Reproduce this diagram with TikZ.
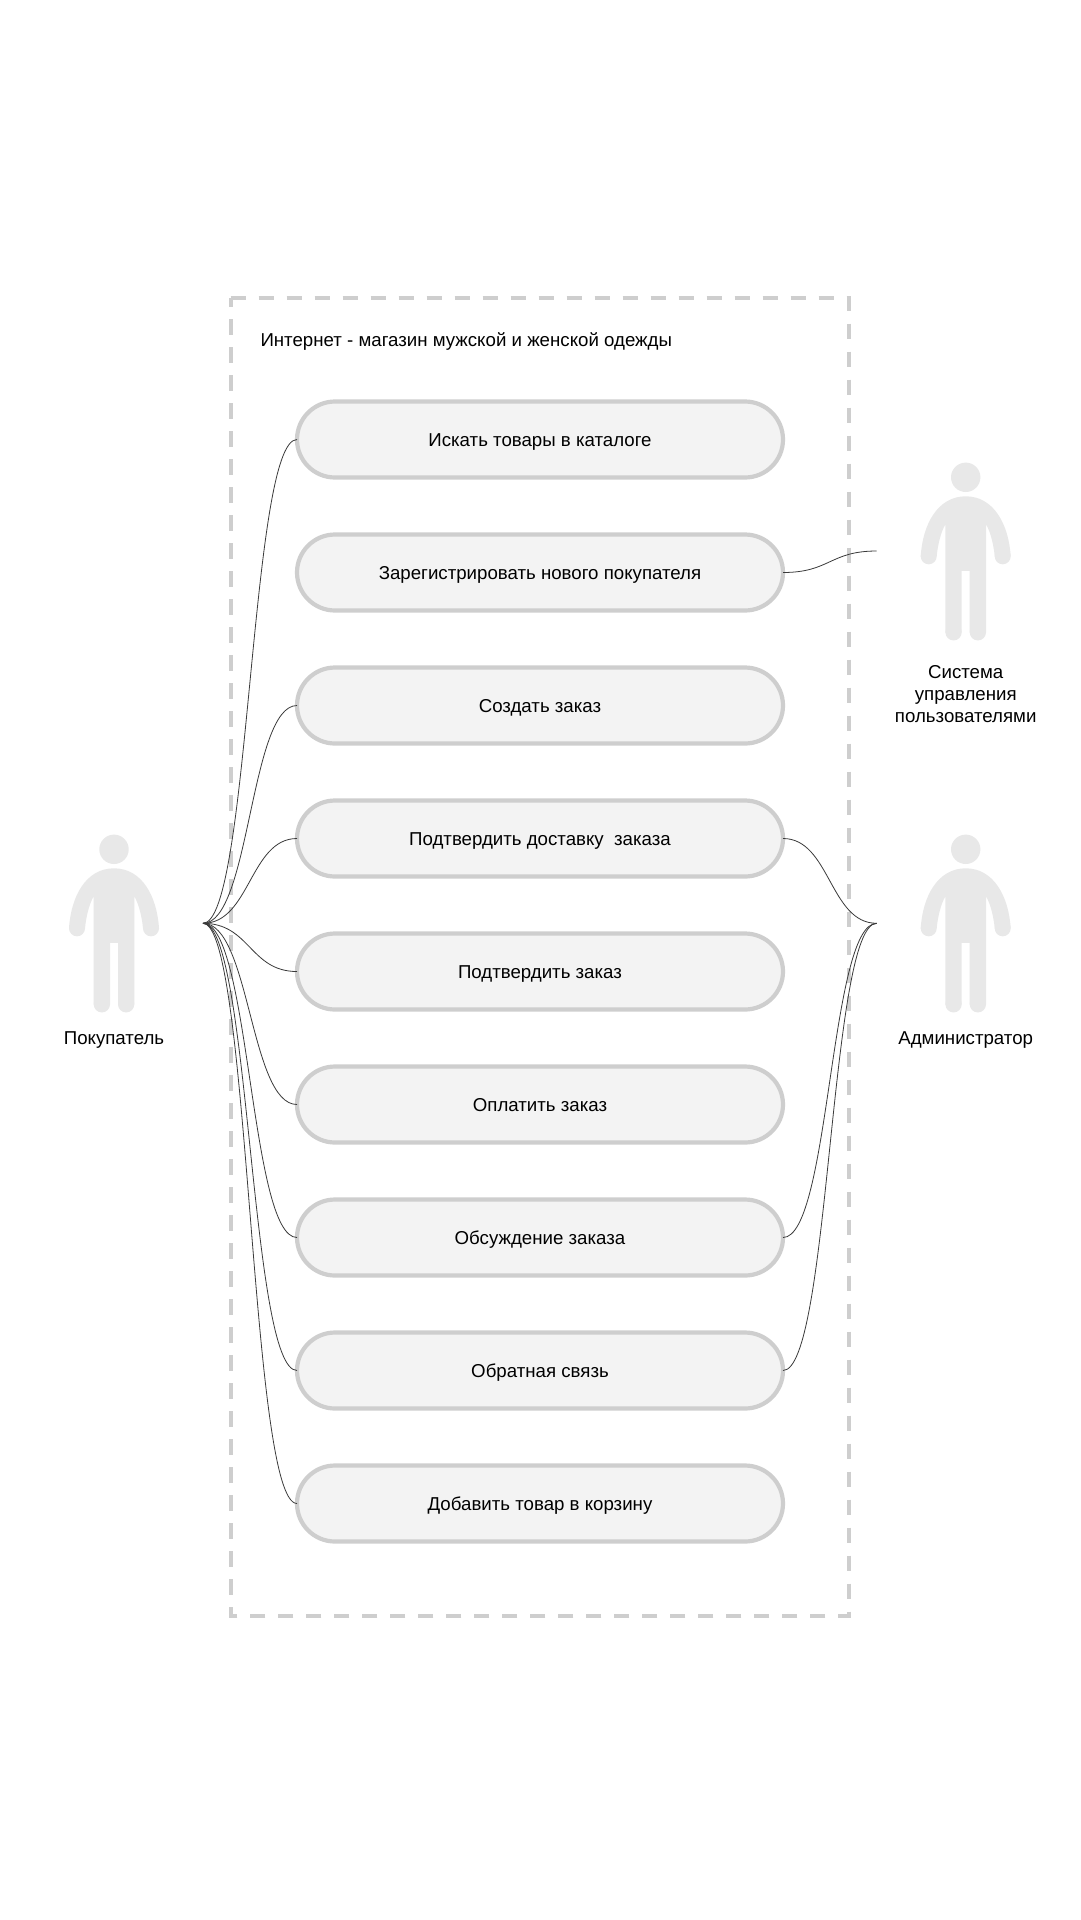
\documentclass[tikz,border=0pt]{standalone}
\usepackage{fontspec}
\setmainfont{Liberation Sans}
\tikzset{
  usecase/.style={draw=pillline,fill=pillfill,line width=4.2pt,rounded corners=38pt,minimum width=486pt,minimum height=76pt,inner sep=0pt,outer sep=0pt,align=center,text height=14pt,text depth=0pt,font=\fontsize{18.67}{22}\selectfont,text=black},
  lbl/.style={align=center,inner sep=0pt,outer sep=0pt,font=\fontsize{18.67}{22}\selectfont,text=black},
  link/.style={draw=linkc,line width=0.8pt},
  frame/.style={draw=pillline,line width=4.2pt,dash pattern=on 15.5pt off 12.5pt},
  person/.pic={
    \fill[personc] (0,0) circle (14.7);
    \fill[personc] (0,19) .. controls (28,19) and (43,47) .. (45,79) -- (29,79)
      .. controls (28,68) and (25,55) .. (20.3,47) -- (20.3,155) -- (4,155) -- (4,93.5)
      -- (-4,93.5) -- (-4,155) -- (-20.3,155) -- (-20.3,47)
      .. controls (-25,55) and (-28,68) .. (-29,79) -- (-45,79)
      .. controls (-43,47) and (-28,19) .. (0,19) -- cycle;
    \fill[personc] (37,79) circle (8) (-37,79) circle (8)
      (12.15,155) circle (8.15) (-12.15,155) circle (8.15);
  }
}
\definecolor{pillline}{HTML}{CECECE}
\definecolor{pillfill}{HTML}{F3F3F3}
\definecolor{personc}{HTML}{E8E8E8}
\definecolor{linkc}{HTML}{3A3A3A}
\begin{document}
\begin{tikzpicture}[x=1pt,y=-1pt]
\useasboundingbox (0,0) rectangle (1080,1920);
\fill[white] (0,0) rectangle (1080,1920);
\draw[frame] (230.6,298) -- (849,298) -- (849,1616) -- (230.6,1616) -- cycle;
\node[lbl,anchor=base west] (title) at (260.5,346.7) {Интернет - магазин мужской и женской одежды};
\node[usecase] (u0) at (540,439.5) {Искать товары в каталоге};
\node[usecase] (u1) at (540,572.5) {Зарегистрировать нового покупателя};
\node[usecase] (u2) at (540,705.5) {Создать заказ};
\node[usecase] (u3) at (540,838.5) {Подтвердить доставку\ \ заказа};
\node[usecase] (u4) at (540,971.5) {Подтвердить заказ};
\node[usecase] (u5) at (540,1104.5) {Оплатить заказ};
\node[usecase] (u6) at (540,1237.5) {Обсуждение заказа};
\node[usecase] (u7) at (540,1370.5) {Обратная связь};
\node[usecase] (u8) at (540,1503.5) {Добавить товар в корзину};
\pic at (114,849.3) {person};
\pic at (965.7,477.3) {person};
\pic at (965.7,849.3) {person};
\node[lbl,anchor=base] (buyerlabel) at (114,1044.5) {Покупатель};
\node[lbl] (syslabel) at (965.7,694) {Система\\управления\\пользователями};
\node[lbl,anchor=base] (adminlabel) at (965.7,1044.5) {Администратор};
\coordinate (buyer) at (203,923.3);
\coordinate (sys) at (876.7,551);
\coordinate (admin) at (876.7,923.3);
\foreach \u in {u0,u2,u3,u4,u5,u6,u7,u8}
  \draw[link] (buyer) .. controls +(47,0) and +(-47,0) .. (\u.west);
\draw[link] (u1.east) .. controls +(47,0) and +(-47,0) .. (sys);
\foreach \u in {u3,u6,u7}
  \draw[link] (\u.east) .. controls +(47,0) and +(-47,0) .. (admin);
\end{tikzpicture}
\end{document}
